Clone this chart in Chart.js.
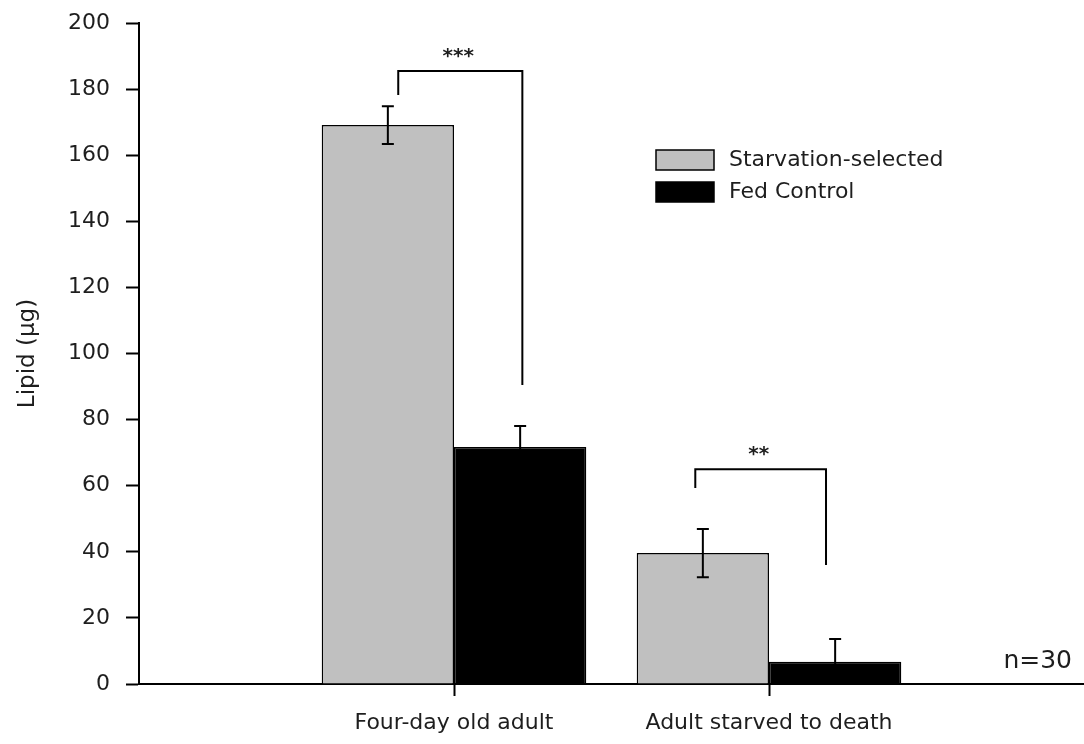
<!DOCTYPE html>
<html>
<head>
<meta charset="utf-8">
<script src="https://cdn.jsdelivr.net/npm/chart.js@4.4.1/dist/chart.umd.min.js"></script>
<style>
    html, body { margin: 0; padding: 0; background: #fff; }
    canvas { display: block; }
</style>
</head>
<body>
<canvas id="lipidChart" width="1084" height="744"></canvas>
<script>
// groups and series
const GROUPS = ['Four-day old adult', 'Adult starved to death'];
const SERIES_NAMES = ['Starvation-selected', 'Fed Control'];
const STARVED_MEANS = [169.1, 39.6];
const STARVED_ERRS = [5.7, 7.3];
const FED_MEANS = [71.7, 6.7];
const FED_ERRS = [6.4, 6.9];

// significance brackets (x in group units, y in µg)
const BRACKET_X = [[0.823, 1.217], [1.766, 2.181]];
const BRACKET_TOP = [185.5, 65];
const BRACKET_LEFT_END = [178.2, 59.3];
const BRACKET_RIGHT_END = [90.5, 36];
const BRACKET_STARS = ['***', '**'];
const SAMPLE_NOTE = 'n=30';

const TEXT_COLOR = '#1e1e1e';
const FONT = 'DejaVu Sans';

Chart.defaults.font.family = FONT;
Chart.defaults.font.size = 22;
Chart.defaults.color = TEXT_COLOR;

function toPoints(values) {
    return values.map((v, i) => ({ x: i + 1, y: v }));
}

// error bars drawn on top of each bar
const errorBars = {
    id: 'errorBars',
    afterDatasetsDraw(chart) {
        const ctx = chart.ctx;
        const yScale = chart.scales.y;
        const area = chart.chartArea;
        const errs = [STARVED_ERRS, FED_ERRS];
        ctx.save();
        ctx.beginPath();
        ctx.rect(area.left, area.top - 10, area.right - area.left, area.bottom - area.top + 10);
        ctx.clip();
        ctx.strokeStyle = '#000';
        ctx.lineWidth = 2;
        chart.data.datasets.forEach((ds, d) => {
            chart.getDatasetMeta(d).data.forEach((bar, i) => {
                const v = ds.data[i].y;
                const hi = yScale.getPixelForValue(v + errs[d][i]);
                const lo = yScale.getPixelForValue(v - errs[d][i]);
                ctx.beginPath();
                ctx.moveTo(bar.x, hi);
                ctx.lineTo(bar.x, lo);
                ctx.moveTo(bar.x - 6, hi);
                ctx.lineTo(bar.x + 6, hi);
                ctx.moveTo(bar.x - 6, lo);
                ctx.lineTo(bar.x + 6, lo);
                ctx.stroke();
            });
        });
        ctx.restore();
    }
};

// brackets, stars, legend and sample note
const extras = {
    id: 'extras',
    afterDraw(chart) {
        const ctx = chart.ctx;
        const xs = chart.scales.x;
        const ys = chart.scales.y;
        const area = chart.chartArea;
        ctx.save();
        ctx.strokeStyle = '#000';
        ctx.lineWidth = 2;
        BRACKET_X.forEach((span, i) => {
            const x1 = xs.getPixelForValue(span[0]);
            const x2 = xs.getPixelForValue(span[1]);
            const top = ys.getPixelForValue(BRACKET_TOP[i]);
            ctx.beginPath();
            ctx.moveTo(x1, ys.getPixelForValue(BRACKET_LEFT_END[i]));
            ctx.lineTo(x1, top);
            ctx.lineTo(x2, top);
            ctx.lineTo(x2, ys.getPixelForValue(BRACKET_RIGHT_END[i]));
            ctx.stroke();

            ctx.fillStyle = TEXT_COLOR;
            ctx.font = 'bold 20px ' + FONT;
            ctx.textAlign = 'center';
            ctx.textBaseline = 'middle';
            ctx.fillText(BRACKET_STARS[i], (x1 + x2) / 2 - 2, top - 14);
        });

        // legend
        const lx = area.left + 517;
        const ly = area.top + 127;
        chart.data.datasets.forEach((ds, i) => {
            const top = ly + i * 32;
            ctx.fillStyle = ds.backgroundColor;
            ctx.fillRect(lx, top, 58, 20);
            ctx.lineWidth = 1.5;
            ctx.strokeStyle = '#000';
            ctx.strokeRect(lx, top, 58, 20);
            ctx.fillStyle = TEXT_COLOR;
            ctx.font = '22px ' + FONT;
            ctx.textAlign = 'left';
            ctx.textBaseline = 'middle';
            ctx.fillText(ds.label, lx + 73, top + 10);
        });

        ctx.font = '25px ' + FONT;
        ctx.textAlign = 'right';
        ctx.textBaseline = 'middle';
        ctx.fillText(SAMPLE_NOTE, area.right - 12, area.bottom - 23);
        ctx.restore();
    }
};

const config = {
    type: 'bar',
    data: {
        datasets: [{
            label: SERIES_NAMES[0],
            data: toPoints(STARVED_MEANS),
            backgroundColor: '#c0c0c0',
            borderColor: '#000',
            borderWidth: 1.5
        }, {
            label: SERIES_NAMES[1],
            data: toPoints(FED_MEANS),
            backgroundColor: '#000',
            borderColor: '#000',
            borderWidth: 1.5
        }]
    },
    options: {
        responsive: false,
        animation: false,
        layout: { padding: { top: 23, right: 0, bottom: 0, left: 0 } },
        datasets: {
            bar: { categoryPercentage: 0.84, barPercentage: 1 }
        },
        plugins: {
            legend: { display: false },
            tooltip: { enabled: false }
        },
        scales: {
            x: {
                type: 'linear',
                min: 0,
                max: 3,
                offset: false,
                afterBuildTicks(scale) {
                    scale.ticks = GROUPS.map((g, i) => ({ value: i + 1 }));
                },
                afterFit(scale) { scale.height = 60; },
                ticks: {
                    autoSkip: false,
                    maxRotation: 0,
                    padding: 14,
                    callback: (v) => GROUPS[v - 1]
                },
                grid: {
                    offset: false,
                    drawOnChartArea: false,
                    tickLength: 12,
                    tickWidth: 2,
                    tickColor: '#000'
                },
                border: { color: '#000', width: 2 }
            },
            y: {
                min: 0,
                max: 200,
                afterFit(scale) {
                    scale.width = 139;
                    scale.paddingTop = 0;
                    scale.paddingBottom = 0;
                },
                ticks: { stepSize: 20, padding: 16 },
                title: {
                    display: true,
                    text: 'Lipid (µg)',
                    padding: { top: 14, bottom: 0 },
                    font: { size: 23 }
                },
                grid: {
                    drawOnChartArea: false,
                    tickLength: 13,
                    tickWidth: 2,
                    tickColor: '#000'
                },
                border: { color: '#000', width: 2 }
            }
        }
    },
    plugins: [errorBars, extras]
};

new Chart('lipidChart', config);
</script>
</body>
</html>
